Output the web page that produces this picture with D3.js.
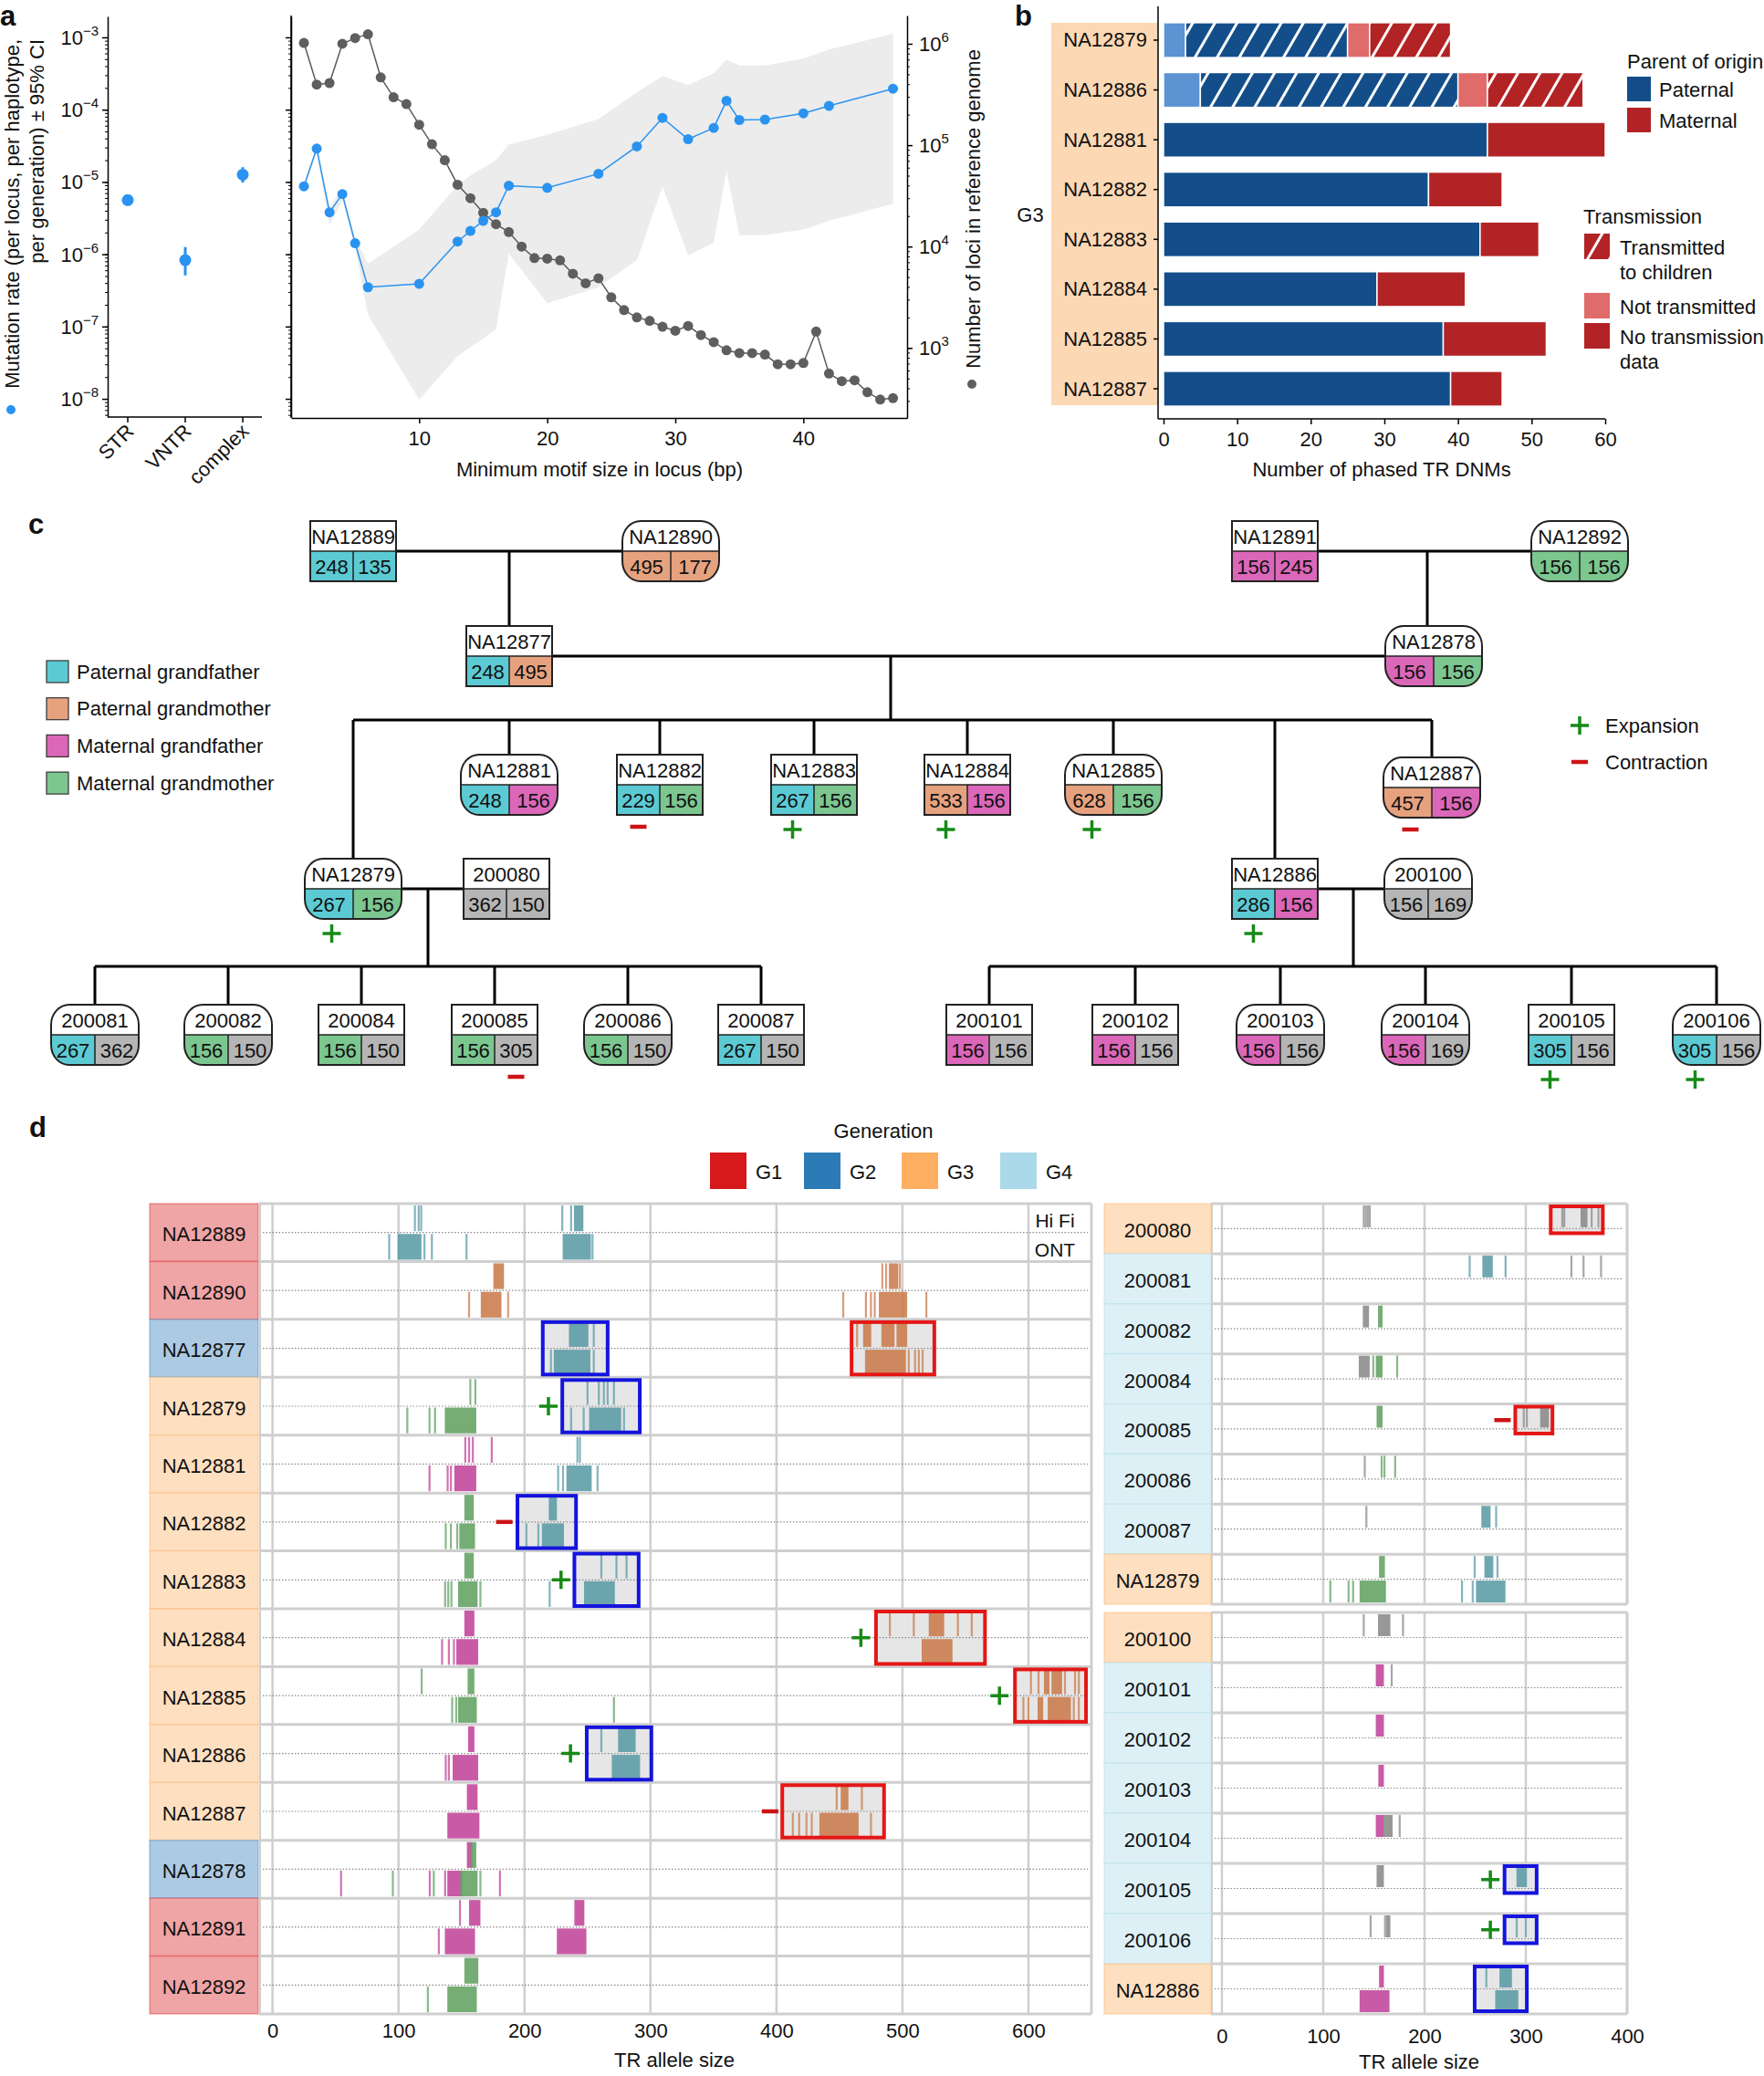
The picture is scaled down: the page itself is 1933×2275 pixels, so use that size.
<!DOCTYPE html>
<html>
<head>
<meta charset="utf-8">
<script src="https://cdn.jsdelivr.net/npm/d3@7"></script>
<style>
  body { margin: 0; background: #fff; }
  text { font-family: "Liberation Sans", Arial, Helvetica, sans-serif; fill: #111; }
</style>
</head>
<body>
<svg id="fig" width="1933" height="2275"></svg>
<script>
// ---------- panel a : mutation rate by TR class ----------
var rateCategories = ["STR", "VNTR", "complex"];
var rateValues = [5.6e-6, 8.3e-7, 1.26e-5];
var rateLow    = [5.3e-6, 5.1e-7, 9.8e-6];
var rateHigh   = [5.9e-6, 1.26e-6, 1.6e-5];

// ---------- panel a : by minimum motif size ----------
var motifSizes    = [1, 2, 3, 4, 5, 6, 10, 13, 14, 15, 16, 17, 20, 24, 27, 29, 31, 33, 34, 35, 37, 40, 42, 47];
var motifRate     = [8.7e-6, 2.9e-5, 3.8e-6, 6.8e-6, 1.42e-6, 3.5e-7, 3.9e-7, 1.5e-6, 2.1e-6, 2.9e-6, 3.8e-6, 8.9e-6,
                     8.3e-6, 1.3e-5, 3.1e-5, 7.7e-5, 3.9e-5, 5.6e-5, 1.33e-4, 7.2e-5, 7.3e-5, 8.9e-5, 1.13e-4, 1.95e-4];
var motifRateLow  = [7.9e-6, 2.6e-5, 2.5e-6, 5.5e-6, 1.23e-6, 1.45e-7, 9.8e-9, 3.9e-8, 5.2e-8, 6.8e-8, 9.1e-8, 1.02e-6,
                     2.1e-7, 3.5e-7, 8.3e-7, 8.7e-6, 9.6e-7, 1.44e-6, 1.43e-5, 1.83e-6, 1.83e-6, 2.2e-6, 2.9e-6, 5.0e-6];
var motifRateHigh = [9.6e-6, 3.3e-5, 4.5e-6, 8.2e-6, 1.66e-6, 7.4e-7, 2.2e-6, 9.1e-6, 1.23e-5, 1.58e-5, 2.0e-5, 3.3e-5,
                     4.5e-5, 7.4e-5, 1.74e-4, 2.9e-4, 2.2e-4, 3.2e-4, 4.9e-4, 4.1e-4, 4.1e-4, 5.1e-4, 6.8e-4, 1.12e-3];
var lociMotifSizes = [1, 2, 3, 4, 5, 6, 7, 8, 9, 10, 11, 12, 13, 14, 15, 16, 17, 18, 19, 20, 21, 22, 23, 24,
                      25, 26, 27, 28, 29, 30, 31, 32, 33, 34, 35, 36, 37, 38, 39, 40, 41, 42, 43, 44, 45, 46, 47];
var lociCounts = [1.02e6, 3.96e5, 4.1e5, 1.0e6, 1.14e6, 1.24e6, 4.66e5, 2.97e5, 2.54e5, 1.59e5, 1.02e5, 7.1e4,
                  4.07e4, 3.0e4, 2.15e4, 1.66e4, 1.39e4, 1.0e4, 7.7e3, 7.6e3, 7.3e3, 5.4e3, 4.34e3, 4.87e3,
                  3.16e3, 2.36e3, 2.0e3, 1.85e3, 1.62e3, 1.48e3, 1.65e3, 1.34e3, 1.14e3, 950, 890, 890,
                  860, 690, 690, 710, 1450, 560, 470, 480, 366, 310, 320];

// ---------- panel b : phased DNMs ----------
var g3Samples    = ["NA12879", "NA12886", "NA12881", "NA12882", "NA12883", "NA12884", "NA12885", "NA12887"];
var patNotTrans  = [3, 5, 0, 0, 0, 0, 0, 0];
var patTrans     = [22, 35, 0, 0, 0, 0, 0, 0];
var patNoData    = [0, 0, 44, 36, 43, 29, 38, 39];
var matNotTrans  = [3, 4, 0, 0, 0, 0, 0, 0];
var matTrans     = [11, 13, 0, 0, 0, 0, 0, 0];
var matNoData    = [0, 0, 16, 10, 8, 12, 14, 7];

// ---------- panel c : pedigree ----------
var pedPeople = [
  {id: "NA12889", sex: "M", a: 248, b: 135, ca: "pgf", cb: "pgf"},
  {id: "NA12890", sex: "F", a: 495, b: 177, ca: "pgm", cb: "pgm"},
  {id: "NA12891", sex: "M", a: 156, b: 245, ca: "mgf", cb: "mgf"},
  {id: "NA12892", sex: "F", a: 156, b: 156, ca: "mgm", cb: "mgm"},
  {id: "NA12877", sex: "M", a: 248, b: 495, ca: "pgf", cb: "pgm"},
  {id: "NA12878", sex: "F", a: 156, b: 156, ca: "mgf", cb: "mgm"},
  {id: "NA12881", sex: "F", a: 248, b: 156, ca: "pgf", cb: "mgf"},
  {id: "NA12882", sex: "M", a: 229, b: 156, ca: "pgf", cb: "mgm", mut: "-", cell: 0},
  {id: "NA12883", sex: "M", a: 267, b: 156, ca: "pgf", cb: "mgm", mut: "+", cell: 0},
  {id: "NA12884", sex: "M", a: 533, b: 156, ca: "pgm", cb: "mgf", mut: "+", cell: 0},
  {id: "NA12885", sex: "F", a: 628, b: 156, ca: "pgm", cb: "mgm", mut: "+", cell: 0},
  {id: "NA12887", sex: "F", a: 457, b: 156, ca: "pgm", cb: "mgf", mut: "-", cell: 0},
  {id: "NA12879", sex: "F", a: 267, b: 156, ca: "pgf", cb: "mgm", mut: "+", cell: 0},
  {id: "200080",  sex: "M", a: 362, b: 150, ca: "sp",  cb: "sp"},
  {id: "NA12886", sex: "M", a: 286, b: 156, ca: "pgf", cb: "mgf", mut: "+", cell: 0},
  {id: "200100",  sex: "F", a: 156, b: 169, ca: "sp",  cb: "sp"},
  {id: "200081",  sex: "F", a: 267, b: 362, ca: "pgf", cb: "sp"},
  {id: "200082",  sex: "F", a: 156, b: 150, ca: "mgm", cb: "sp"},
  {id: "200084",  sex: "M", a: 156, b: 150, ca: "mgm", cb: "sp"},
  {id: "200085",  sex: "M", a: 156, b: 305, ca: "mgm", cb: "sp", mut: "-", cell: 1},
  {id: "200086",  sex: "F", a: 156, b: 150, ca: "mgm", cb: "sp"},
  {id: "200087",  sex: "M", a: 267, b: 150, ca: "pgf", cb: "sp"},
  {id: "200101",  sex: "M", a: 156, b: 156, ca: "mgf", cb: "sp"},
  {id: "200102",  sex: "M", a: 156, b: 156, ca: "mgf", cb: "sp"},
  {id: "200103",  sex: "F", a: 156, b: 156, ca: "mgf", cb: "sp"},
  {id: "200104",  sex: "F", a: 156, b: 169, ca: "mgf", cb: "sp"},
  {id: "200105",  sex: "M", a: 305, b: 156, ca: "pgf", cb: "sp", mut: "+", cell: 0},
  {id: "200106",  sex: "F", a: 305, b: 156, ca: "pgf", cb: "sp", mut: "+", cell: 0}
];
var pedFamilies = [
  {p1: "NA12889", p2: "NA12890", kids: ["NA12877"]},
  {p1: "NA12891", p2: "NA12892", kids: ["NA12878"]},
  {p1: "NA12877", p2: "NA12878", kids: ["NA12879", "NA12881", "NA12882", "NA12883", "NA12884", "NA12885", "NA12886", "NA12887"]},
  {p1: "NA12879", p2: "200080", kids: ["200081", "200082", "200084", "200085", "200086", "200087"]},
  {p1: "NA12886", p2: "200100", kids: ["200101", "200102", "200103", "200104", "200105", "200106"]}
];
var originLabels = ["Paternal grandfather", "Paternal grandmother", "Maternal grandfather", "Maternal grandmother"];
var originKeys = ["pgf", "pgm", "mgf", "mgm"];

// ---------- panel d : read-level allele sizes ----------
var leftRows = ["NA12889", "NA12890", "NA12877", "NA12879", "NA12881", "NA12882", "NA12883",
                "NA12884", "NA12885", "NA12886", "NA12887", "NA12878", "NA12891", "NA12892"];
var leftGen  = ["G1", "G1", "G2", "G3", "G3", "G3", "G3", "G3", "G3", "G3", "G3", "G2", "G1", "G1"];
var rightRowsA = ["200080", "200081", "200082", "200084", "200085", "200086", "200087", "NA12879"];
var rightGenA  = ["G3", "G4", "G4", "G4", "G4", "G4", "G4", "G3"];
var rightRowsB = ["200100", "200101", "200102", "200103", "200104", "200105", "200106", "NA12886"];
var rightGenB  = ["G3", "G4", "G4", "G4", "G4", "G4", "G4", "G3"];
var generations = ["G1", "G2", "G3", "G4"];

// reads: s = sample, p = H (HiFi) / O (ONT), c = origin, v = sizes ([lo, hi] = dense block)
var leftReads = [
  {s: "NA12889", p: "H", c: "pgf", v: [113, 116, 118, 230, 237, [240, 246]]},
  {s: "NA12889", p: "O", c: "pgf", v: [92.6, [100, 117.5], 120.6, 126.5, 154, [231, 252], 254]},
  {s: "NA12890", p: "H", c: "pgm", v: [[176, 183], 484, 487, [490, 496], 498]},
  {s: "NA12890", p: "O", c: "pgm", v: [156, [166, 181], 187, 453, 471, 475, 478, [482, 503], 519]},
  {s: "NA12877", p: "H", c: "pgf", v: [[236, 250], 255]},
  {s: "NA12877", p: "H", c: "pgm", v: [464, [469.5, 474.5], [484, 493], [496, 503]]},
  {s: "NA12877", p: "O", c: "pgf", v: [221, [224, 251.6], 255]},
  {s: "NA12877", p: "O", c: "pgm", v: [[471, 502], 505, 510, 513, 516]},
  {s: "NA12879", p: "H", c: "mgm", v: [157, 161]},
  {s: "NA12879", p: "O", c: "mgm", v: [107, 124.6, 129, [137.5, 161]]},
  {s: "NA12879", p: "H", c: "pgf", v: [250, 259, 263, 266, 271]},
  {s: "NA12879", p: "O", c: "pgf", v: [237, 247, [252, 276], 279]},
  {s: "NA12881", p: "H", c: "mgf", v: [153, 156, 159, 174]},
  {s: "NA12881", p: "H", c: "pgf", v: [242, 244]},
  {s: "NA12881", p: "O", c: "mgf", v: [124.6, 139, 141.6, [145, 161]]},
  {s: "NA12881", p: "O", c: "pgf", v: [226.7, 230.6, [234, 252.6], 258]},
  {s: "NA12882", p: "H", c: "mgm", v: [[153, 159]]},
  {s: "NA12882", p: "O", c: "mgm", v: [137.5, 141.6, 146.6, [149, 160]]},
  {s: "NA12882", p: "H", c: "pgf", v: [[220, 225]]},
  {s: "NA12882", p: "O", c: "pgf", v: [201.5, 211, [214.5, 230.6]]},
  {s: "NA12883", p: "H", c: "mgm", v: [[153, 159]]},
  {s: "NA12883", p: "O", c: "mgm", v: [137, 139.5, 142, [148, 162], 165]},
  {s: "NA12883", p: "H", c: "pgf", v: [261, 273, 281]},
  {s: "NA12883", p: "O", c: "pgf", v: [220, [248, 271]]},
  {s: "NA12884", p: "H", c: "mgf", v: [[153, 159.5]]},
  {s: "NA12884", p: "O", c: "mgf", v: [134.6, 140, 144, [146.6, 162.5]]},
  {s: "NA12884", p: "H", c: "pgm", v: [490, 509, [521.6, 532.4], 544, 555]},
  {s: "NA12884", p: "O", c: "pgm", v: [[516, 539]]},
  {s: "NA12885", p: "H", c: "mgm", v: [118.4, [155.6, 159.5]]},
  {s: "NA12885", p: "O", c: "mgm", v: [142.6, 145.8, [148, 161.4], 271]},
  {s: "NA12885", p: "H", c: "pgm", v: [602, 608, [613, 616], [619, 626], 629, 637, 640]},
  {s: "NA12885", p: "O", c: "pgm", v: [596, 600, [608, 611], [616, 633], 636, 640]},
  {s: "NA12886", p: "H", c: "mgf", v: [[156, 159.5]]},
  {s: "NA12886", p: "O", c: "mgf", v: [137.5, 140, [143.7, 162.5]]},
  {s: "NA12886", p: "H", c: "pgf", v: [261, [275, 287.5]]},
  {s: "NA12886", p: "O", c: "pgf", v: [[270, 291]]},
  {s: "NA12887", p: "H", c: "mgf", v: [[155, 162]]},
  {s: "NA12887", p: "O", c: "mgf", v: [[139.5, 163.5]]},
  {s: "NA12887", p: "H", c: "pgm", v: [447.8, [451.7, 456.4], 467.8]},
  {s: "NA12887", p: "O", c: "pgm", v: [413, 418, 423.8, 428, [434.8, 464.5], 475]},
  {s: "NA12878", p: "H", c: "mgf", v: [[155, 158]]},
  {s: "NA12878", p: "H", c: "mgm", v: [[158, 161]]},
  {s: "NA12878", p: "O", c: "mgf", v: [54.4, 124.8, 137, [139.5, 149.8], 180.5]},
  {s: "NA12878", p: "O", c: "mgm", v: [95.5, 128, [149.8, 162], 165]},
  {s: "NA12891", p: "H", c: "mgf", v: [148.8, [156.7, 164.3], [240.3, 246.8]]},
  {s: "NA12891", p: "O", c: "mgf", v: [132, [137.5, 160], [226.4, 248.4]]},
  {s: "NA12892", p: "H", c: "mgm", v: [[153, 162.6]]},
  {s: "NA12892", p: "O", c: "mgm", v: [123.3, [139.5, 161.4]]}
];
var rightReads = [
  {s: "200080", p: "H", c: "sp", v: [140, 142, 144, 146, 336, 338, [355, 360], 365, 371.7]},
  {s: "200081", p: "H", c: "pgf", v: [244.6, [258, 266.5], 280]},
  {s: "200081", p: "H", c: "sp", v: [345, 357, 374.3]},
  {s: "200082", p: "H", c: "sp", v: [[140, 144.3]]},
  {s: "200082", p: "H", c: "mgm", v: [[155, 157.7]]},
  {s: "200084", p: "H", c: "sp", v: [[136, 145]]},
  {s: "200084", p: "H", c: "mgm", v: [149.4, [152.8, 157.7], 173]},
  {s: "200085", p: "H", c: "mgm", v: [[153.6, 157.7]]},
  {s: "200085", p: "H", c: "sp", v: [298, 301, [315, 322]]},
  {s: "200086", p: "H", c: "sp", v: [141]},
  {s: "200086", p: "H", c: "mgm", v: [157.7, 160.5, 171]},
  {s: "200087", p: "H", c: "sp", v: [142.6]},
  {s: "200087", p: "H", c: "pgf", v: [[257, 264.3], 270.7]},
  {s: "NA12879", p: "H", c: "mgm", v: [[156, 160]]},
  {s: "NA12879", p: "H", c: "pgf", v: [249.5, [260, 267], 272]},
  {s: "NA12879", p: "O", c: "mgm", v: [107, 125, 129.5, [136.8, 161]]},
  {s: "NA12879", p: "O", c: "pgf", v: [237, 247.6, [251.7, 279]]},
  {s: "200100", p: "H", c: "sp", v: [140, [155, 165.4], 178.8]},
  {s: "200101", p: "H", c: "mgf", v: [[152.8, 159]]},
  {s: "200101", p: "H", c: "sp", v: [167.6]},
  {s: "200102", p: "H", c: "mgf", v: [[152.8, 159]]},
  {s: "200103", p: "H", c: "mgf", v: [[155.3, 159]]},
  {s: "200104", p: "H", c: "mgf", v: [[152.8, 159]]},
  {s: "200104", p: "H", c: "sp", v: [[160.4, 167.6], 175.5]},
  {s: "200105", p: "H", c: "sp", v: [[153.6, 159]]},
  {s: "200105", p: "H", c: "pgf", v: [[291.7, 300.2]]},
  {s: "200106", p: "H", c: "sp", v: [146.8, 161, [163, 165.4]]},
  {s: "200106", p: "H", c: "pgf", v: [291, 300]},
  {s: "NA12886", p: "H", c: "mgf", v: [[156, 159]]},
  {s: "NA12886", p: "H", c: "pgf", v: [261, [274.9, 285.4], 300]},
  {s: "NA12886", p: "O", c: "mgf", v: [[136.8, 164.5]]},
  {s: "NA12886", p: "O", c: "pgf", v: [[270.7, 291.7]]}
];
// de novo allele boxes: k = blue (paternal line) / red (maternal line)
var leftBoxes = [
  {s: "NA12877", lo: 214.5, hi: 266, k: "blue"},
  {s: "NA12877", lo: 459.6, hi: 525.3, k: "red"},
  {s: "NA12879", lo: 230, hi: 291.5, k: "blue", mut: "+", at: 219},
  {s: "NA12882", lo: 194.4, hi: 240.9, k: "blue", mut: "-", at: 184},
  {s: "NA12883", lo: 239.6, hi: 290.6, k: "blue", mut: "+", at: 229},
  {s: "NA12884", lo: 479, hi: 565.5, k: "red", mut: "+", at: 467},
  {s: "NA12885", lo: 589.3, hi: 645.7, k: "red", mut: "+", at: 577},
  {s: "NA12886", lo: 249.4, hi: 300.7, k: "blue", mut: "+", at: 236.5},
  {s: "NA12887", lo: 404.6, hi: 485.4, k: "red", mut: "-", at: 395}
];
var rightBoxes = [
  {s: "200080", lo: 324.6, hi: 376, k: "red", half: true},
  {s: "200085", lo: 289.6, hi: 326.3, k: "red", half: true, mut: "-", at: 277},
  {s: "200105", lo: 279, hi: 310.7, k: "blue", half: true, mut: "+", at: 265},
  {s: "200106", lo: 279, hi: 310.7, k: "blue", half: true, mut: "+", at: 265},
  {s: "NA12886", lo: 249.5, hi: 301, k: "blue"}
];

// ---------- colours ----------
var readColor = {pgf: "#5b9ba6", pgm: "#c97b4c", mgf: "#c2449a", mgm: "#62a262", sp: "#8a8a8a"};
var cellColor = {pgf: "#5ccad3", pgm: "#e6a27f", mgf: "#db67b8", mgm: "#7cc68f", sp: "#b5b5b5"};
var genColor  = {G1: "#d7191c", G2: "#2c7bb6", G3: "#fdae61", G4: "#abd9e9"};
var genLight  = {G1: "#efa4a5", G2: "#accae2", G3: "#fedfc0", G4: "#ddf0f6"};
var boxColor  = {blue: "#1414dc", red: "#e51616"};
var plusColor = "#178a17", minusColor = "#cc1414";

var svg = d3.select("#fig");
var defs = svg.append("defs");

function panelLabel(txt, x, y) {
  svg.append("text").attr("x", x).attr("y", y).attr("font-size", 31)
    .attr("font-weight", "bold").text(txt);
}
function supText(g, x, y, exp, anchor) {
  var t = g.append("text").attr("x", x).attr("y", y + 8).attr("text-anchor", anchor)
    .attr("font-size", 22);
  t.append("tspan").text("10");
  t.append("tspan").attr("dy", -10).attr("font-size", 15).text(exp);
  return t;
}
function plusMark(g, x, y, s) {
  g.append("path").attr("d", `M${x - s / 2},${y}H${x + s / 2}M${x},${y - s / 2}V${y + s / 2}`)
    .attr("stroke", plusColor).attr("stroke-width", 3.5);
}
function minusMark(g, x, y, s) {
  g.append("path").attr("d", `M${x - s / 2},${y}H${x + s / 2}`)
    .attr("stroke", minusColor).attr("stroke-width", 4.5);
}

// =================================
// Panel a (left): rate by class
// =================================
panelLabel("a", 0, 28);
var yRate = d3.scaleLog().domain([5.6e-9, 1.95e-3]).range([457, 18]);
var xCat = d3.scalePoint().domain(rateCategories).range([140, 266]);
var majorRate = [1e-8, 1e-7, 1e-6, 1e-5, 1e-4, 1e-3];
var expRate = ["\u22128", "\u22127", "\u22126", "\u22125", "\u22124", "\u22123"];

var gA = svg.append("g");
function rateAxis(g, x, labels) {
  var minor = g.append("g").attr("transform", `translate(${x},0)`)
    .call(d3.axisLeft(yRate).tickValues(yRate.ticks()).tickSize(3).tickSizeOuter(0).tickFormat(""));
  minor.select(".domain").remove();
  g.append("g").attr("transform", `translate(${x},0)`)
    .call(d3.axisLeft(yRate).tickValues(majorRate).tickSize(6).tickSizeOuter(0).tickFormat(""))
    .selectAll("path,line").attr("stroke-width", 1.5);
  if (labels) {
    majorRate.forEach(function(v, i) { supText(g, x - 10, yRate(v), expRate[i], "end"); });
  }
}
rateAxis(gA, 118, true);
gA.append("line").attr("x1", 118).attr("x2", 287).attr("y1", 457).attr("y2", 457)
  .attr("stroke", "#000").attr("stroke-width", 1.5);
rateCategories.forEach(function(c, i) {
  var x = xCat(c);
  gA.append("line").attr("x1", x).attr("x2", x).attr("y1", 457).attr("y2", 463).attr("stroke", "#000").attr("stroke-width", 1.5);
  gA.append("text").attr("text-anchor", "end").attr("font-size", 22)
    .attr("transform", `translate(${x + 8},${474}) rotate(-45)`).text(c);
  gA.append("line").attr("x1", x).attr("x2", x).attr("y1", yRate(rateLow[i])).attr("y2", yRate(rateHigh[i]))
    .attr("stroke", "#2a93f0").attr("stroke-width", 3);
  gA.append("circle").attr("cx", x).attr("cy", yRate(rateValues[i])).attr("r", 6.5).attr("fill", "#2a93f0");
});
gA.append("text").attr("transform", "translate(13,43) rotate(-90)").attr("text-anchor", "end")
  .attr("dominant-baseline", "central").attr("font-size", 22).text("Mutation rate (per locus, per haplotype,");
gA.append("text").attr("transform", "translate(40,43) rotate(-90)").attr("text-anchor", "end")
  .attr("dominant-baseline", "central").attr("font-size", 22).text("per generation) \u00b1 95% CI");
gA.append("circle").attr("cx", 12).attr("cy", 449).attr("r", 5).attr("fill", "#2a93f0");

// =================================
// Panel a (right): rate and loci by motif size
// =================================
var xMotif = d3.scaleLinear().domain([0, 48.1]).range([319, 994]);
var yLoci = d3.scaleLog().domain([204, 1.9e6]).range([458, 17]);
var gA2 = svg.append("g");
var bandData = motifSizes.map((m, i) => ({x: m, lo: motifRateLow[i], hi: motifRateHigh[i]}));
gA2.append("path").datum(bandData).attr("fill", "#ececec")
  .attr("d", d3.area().x(d => xMotif(d.x)).y0(d => yRate(d.lo)).y1(d => yRate(d.hi)));

var lociData = lociMotifSizes.map((m, i) => ({x: m, y: lociCounts[i]}));
gA2.append("path").datum(lociData).attr("fill", "none").attr("stroke", "#5a5a5a").attr("stroke-width", 1.5)
  .attr("d", d3.line().x(d => xMotif(d.x)).y(d => yLoci(d.y)));
gA2.selectAll("circle.loci").data(lociData).enter().append("circle").attr("class", "loci")
  .attr("cx", d => xMotif(d.x)).attr("cy", d => yLoci(d.y)).attr("r", 5.5).attr("fill", "#5e5e5e");

var rateData = motifSizes.map((m, i) => ({x: m, y: motifRate[i]}));
gA2.append("path").datum(rateData).attr("fill", "none").attr("stroke", "#2a93f0").attr("stroke-width", 1.5)
  .attr("d", d3.line().x(d => xMotif(d.x)).y(d => yRate(d.y)));
gA2.selectAll("circle.rate").data(rateData).enter().append("circle").attr("class", "rate")
  .attr("cx", d => xMotif(d.x)).attr("cy", d => yRate(d.y)).attr("r", 5.5).attr("fill", "#2a93f0");

rateAxis(gA2, 319, false);
gA2.append("line").attr("x1", 319).attr("x2", 319).attr("y1", 17).attr("y2", 458).attr("stroke", "#000").attr("stroke-width", 1.5);
var xAx = gA2.append("g").attr("transform", "translate(0,458)")
  .call(d3.axisBottom(xMotif).tickValues([10, 20, 30, 40]).tickSize(6).tickSizeOuter(0).tickPadding(8));
xAx.selectAll("text").attr("font-size", 22).style("font-family", "inherit");
xAx.selectAll("path,line").attr("stroke-width", 1.5);
var lociMinor = gA2.append("g").attr("transform", "translate(994,0)")
  .call(d3.axisRight(yLoci).tickValues(yLoci.ticks()).tickSize(3).tickFormat(""));
lociMinor.select(".domain").remove();
gA2.append("g").attr("transform", "translate(994,0)")
  .call(d3.axisRight(yLoci).tickValues([1e3, 1e4, 1e5, 1e6]).tickSize(6).tickSizeOuter(0).tickFormat(""))
  .selectAll("path,line").attr("stroke-width", 1.5);
[1e3, 1e4, 1e5, 1e6].forEach(function(v, i) { supText(gA2, 1007, yLoci(v), String(i + 3), "start"); });
gA2.append("text").attr("x", 657).attr("y", 522).attr("text-anchor", "middle").attr("font-size", 22)
  .text("Minimum motif size in locus (bp)");
gA2.append("text").attr("transform", "translate(1066,229) rotate(-90)").attr("text-anchor", "middle")
  .attr("dominant-baseline", "central").attr("font-size", 22).text("Number of loci in reference genome");
gA2.append("circle").attr("cx", 1065).attr("cy", 421).attr("r", 5).attr("fill", "#5e5e5e");

// =================================
// Panel b: phased TR DNMs
// =================================
panelLabel("b", 1112, 28);
function hatch(id, col) {
  var p = defs.append("pattern").attr("id", id).attr("patternUnits", "userSpaceOnUse")
    .attr("width", 21).attr("height", 21).attr("patternTransform", "rotate(30)");
  p.append("rect").attr("width", 21).attr("height", 21).attr("fill", col);
  p.append("line").attr("x1", 10.5).attr("x2", 10.5).attr("y1", 0).attr("y2", 21)
    .attr("stroke", "#fff").attr("stroke-width", 3);
}
hatch("hatchBlue", "#144e8a");
hatch("hatchRed", "#b22325");
var dnmKeys = ["patNot", "patTrans", "patNo", "matNot", "matTrans", "matNo"];
var dnmFill = {patNot: "#5b93d3", patTrans: "url(#hatchBlue)", patNo: "#144e8a",
               matNot: "#e06b6b", matTrans: "url(#hatchRed)", matNo: "#b22325"};
var dnmRows = g3Samples.map((s, i) => ({sample: s, patNot: patNotTrans[i], patTrans: patTrans[i], patNo: patNoData[i],
                                        matNot: matNotTrans[i], matTrans: matTrans[i], matNo: matNoData[i]}));
var dnmStack = d3.stack().keys(dnmKeys)(dnmRows);
var xDnm = d3.scaleLinear().domain([0, 60]).range([1275, 1759]);
var yDnm = d3.scaleBand().domain(g3Samples).range([16.7, 453.3]).paddingInner(0.3).paddingOuter(0.15);
var gB = svg.append("g");
gB.append("rect").attr("x", 1152).attr("y", 25).attr("width", 117).attr("height", 419).attr("fill", "#fdd8b4");
gB.append("text").attr("x", 1129).attr("y", 235).attr("text-anchor", "middle").attr("dominant-baseline", "central")
  .attr("font-size", 22).text("G3");
dnmStack.forEach(function(layer) {
  gB.selectAll(null).data(layer.filter(d => d[1] > d[0])).enter().append("rect")
    .attr("x", d => xDnm(d[0])).attr("width", d => xDnm(d[1]) - xDnm(d[0]))
    .attr("y", d => yDnm(d.data.sample)).attr("height", yDnm.bandwidth())
    .attr("fill", dnmFill[layer.key]).attr("stroke", "#fff").attr("stroke-width", 1.5);
});
gB.append("line").attr("x1", 1269).attr("x2", 1269).attr("y1", 7).attr("y2", 459).attr("stroke", "#000").attr("stroke-width", 1.5);
gB.append("line").attr("x1", 1269).attr("x2", 1759).attr("y1", 459).attr("y2", 459).attr("stroke", "#000").attr("stroke-width", 1.5);
g3Samples.forEach(function(s) {
  var y = yDnm(s) + yDnm.bandwidth() / 2;
  gB.append("line").attr("x1", 1264).attr("x2", 1269).attr("y1", y).attr("y2", y).attr("stroke", "#000").attr("stroke-width", 1.5);
  gB.append("text").attr("x", 1257).attr("y", y).attr("text-anchor", "end").attr("dominant-baseline", "central")
    .attr("font-size", 22).text(s);
});
var bAx = gB.append("g").attr("transform", "translate(0,459)")
  .call(d3.axisBottom(xDnm).tickValues([0, 10, 20, 30, 40, 50, 60]).tickSize(6).tickSizeOuter(0).tickPadding(8));
bAx.select(".domain").remove();
bAx.selectAll("text").attr("font-size", 22).style("font-family", "inherit");
bAx.selectAll("line").attr("stroke-width", 1.5);
gB.append("text").attr("x", 1514).attr("y", 522).attr("text-anchor", "middle").attr("font-size", 22)
  .text("Number of phased TR DNMs");
// legend
gB.append("text").attr("x", 1783).attr("y", 67).attr("dominant-baseline", "central").attr("font-size", 22).text("Parent of origin");
[["Paternal", "#144e8a", 84], ["Maternal", "#b22325", 118]].forEach(function(d) {
  gB.append("rect").attr("x", 1783).attr("y", d[2]).attr("width", 26).attr("height", 27).attr("fill", d[1]);
  gB.append("text").attr("x", 1818).attr("y", d[2] + 14).attr("dominant-baseline", "central").attr("font-size", 22).text(d[0]);
});
gB.append("text").attr("x", 1735).attr("y", 237).attr("dominant-baseline", "central").attr("font-size", 22).text("Transmission");
[["url(#hatchRed)", 256, ["Transmitted", "to children"]], ["#e06b6b", 321, ["Not transmitted"]],
 ["#b22325", 354, ["No transmission", "data"]]].forEach(function(d) {
  gB.append("rect").attr("x", 1736).attr("y", d[1]).attr("width", 28).attr("height", 28).attr("fill", d[0]);
  d[2].forEach(function(t, j) {
    gB.append("text").attr("x", 1775).attr("y", d[1] + 15 + j * 27).attr("dominant-baseline", "central")
      .attr("font-size", 22).text(t);
  });
});

// =================================
// Panel c: pedigree
// =================================
panelLabel("c", 31, 585);
var pedLayout = {
  NA12889: [387, 571], NA12890: [735, 571], NA12891: [1397, 571], NA12892: [1731, 571],
  NA12877: [558, 686], NA12878: [1571, 686],
  NA12881: [558, 827], NA12882: [723, 827], NA12883: [892, 827], NA12884: [1060, 827],
  NA12885: [1220, 827], NA12887: [1569, 830],
  NA12879: [387, 941], "200080": [555, 941], NA12886: [1397, 941], "200100": [1565, 941],
  "200081": [104, 1101], "200082": [250, 1101], "200084": [396, 1101], "200085": [542, 1101],
  "200086": [688, 1101], "200087": [834, 1101],
  "200101": [1084, 1101], "200102": [1244, 1101], "200103": [1403, 1101], "200104": [1562, 1101],
  "200105": [1722, 1101], "200106": [1881, 1101]
};
var pedDrop = {NA12889: 558, NA12891: 1564, NA12877: 976, NA12879: 469, NA12886: 1483};
var pedSib = {NA12877: 789, NA12879: 1059, NA12886: 1059};
var BOXH = 66;
var pedById = {};
pedPeople.forEach(p => { pedById[p.id] = p; });
function boxW(p) { return p.sex === "M" ? 94 : (p.id.indexOf("NA") === 0 ? 106 : 96); }

var gC = svg.append("g");
var gLines = gC.append("g").attr("stroke", "#000").attr("stroke-width", 3).attr("fill", "none");
pedFamilies.forEach(function(f) {
  var a = pedById[f.p1], b = pedById[f.p2];
  var la = pedLayout[f.p1], lb = pedLayout[f.p2];
  var cy = la[1] + BOXH / 2;
  gLines.append("line").attr("x1", la[0] + boxW(a) / 2).attr("x2", lb[0] - boxW(b) / 2).attr("y1", cy).attr("y2", cy);
  var dx = pedDrop[f.p1];
  if (f.kids.length === 1) {
    gLines.append("line").attr("x1", dx).attr("x2", dx).attr("y1", cy).attr("y2", pedLayout[f.kids[0]][1]);
    return;
  }
  var sy = pedSib[f.p1];
  gLines.append("line").attr("x1", dx).attr("x2", dx).attr("y1", cy).attr("y2", sy);
  var xs = f.kids.map(k => pedLayout[k][0]);
  gLines.append("line").attr("x1", d3.min(xs)).attr("x2", d3.max(xs)).attr("y1", sy).attr("y2", sy);
  f.kids.forEach(function(k) {
    var l = pedLayout[k];
    gLines.append("line").attr("x1", l[0]).attr("x2", l[0]).attr("y1", sy).attr("y2", l[1]);
  });
});
pedPeople.forEach(function(p, i) {
  var l = pedLayout[p.id], w = boxW(p), x0 = l[0] - w / 2, y0 = l[1];
  var rx = p.sex === "F" ? 20 : 0;
  var cid = "clipPed" + i;
  defs.append("clipPath").attr("id", cid).append("rect").attr("x", x0).attr("y", y0)
    .attr("width", w).attr("height", BOXH).attr("rx", rx).attr("ry", rx ? 22 : 0);
  var g = gC.append("g");
  var inner = g.append("g").attr("clip-path", `url(#${cid})`);
  inner.append("rect").attr("x", x0).attr("y", y0).attr("width", w).attr("height", BOXH / 2).attr("fill", "#fff");
  inner.append("rect").attr("x", x0).attr("y", y0 + BOXH / 2).attr("width", w / 2).attr("height", BOXH / 2).attr("fill", cellColor[p.ca]);
  inner.append("rect").attr("x", x0 + w / 2).attr("y", y0 + BOXH / 2).attr("width", w / 2).attr("height", BOXH / 2).attr("fill", cellColor[p.cb]);
  inner.append("line").attr("x1", x0).attr("x2", x0 + w).attr("y1", y0 + BOXH / 2).attr("y2", y0 + BOXH / 2).attr("stroke", "#222").attr("stroke-width", 1.5);
  inner.append("line").attr("x1", l[0]).attr("x2", l[0]).attr("y1", y0 + BOXH / 2).attr("y2", y0 + BOXH).attr("stroke", "#222").attr("stroke-width", 1.5);
  g.append("rect").attr("x", x0).attr("y", y0).attr("width", w).attr("height", BOXH).attr("rx", rx).attr("ry", rx ? 22 : 0)
    .attr("fill", "none").attr("stroke", "#222").attr("stroke-width", 2);
  g.append("text").attr("x", l[0]).attr("y", y0 + 17).attr("text-anchor", "middle").attr("dominant-baseline", "central")
    .attr("font-size", 22).text(p.id);
  g.append("text").attr("x", l[0] - w / 4).attr("y", y0 + 50).attr("text-anchor", "middle").attr("dominant-baseline", "central")
    .attr("font-size", 22).text(p.a);
  g.append("text").attr("x", l[0] + w / 4).attr("y", y0 + 50).attr("text-anchor", "middle").attr("dominant-baseline", "central")
    .attr("font-size", 22).text(p.b);
  if (p.mut) {
    var mx = l[0] + (p.cell === 0 ? -23.5 : 23.5), my = y0 + BOXH + 16;
    if (p.mut === "+") plusMark(g, mx, my, 20); else minusMark(g, mx, my - 3, 18);
  }
});
originLabels.forEach(function(t, i) {
  var y = 736 + i * 40.7;
  gC.append("rect").attr("x", 51).attr("y", y - 12).attr("width", 24).attr("height", 24)
    .attr("fill", cellColor[originKeys[i]]).attr("stroke", "#333").attr("stroke-width", 1.2);
  gC.append("text").attr("x", 84).attr("y", y).attr("dominant-baseline", "central").attr("font-size", 22).text(t);
});
plusMark(gC, 1731, 795, 20);
gC.append("text").attr("x", 1759).attr("y", 795).attr("dominant-baseline", "central").attr("font-size", 22).text("Expansion");
minusMark(gC, 1731, 835, 18);
gC.append("text").attr("x", 1759).attr("y", 835).attr("dominant-baseline", "central").attr("font-size", 22).text("Contraction");

// =================================
// Panel d: read-level allele sizes
// =================================
panelLabel("d", 32, 1246);
var gD = svg.append("g");
gD.append("text").attr("x", 968).attr("y", 1239).attr("text-anchor", "middle").attr("dominant-baseline", "central")
  .attr("font-size", 22).text("Generation");
var legX = [778, 881, 988, 1096];
generations.forEach(function(gname, i) {
  gD.append("rect").attr("x", legX[i]).attr("y", 1263).attr("width", 40).attr("height", 40).attr("fill", genColor[gname]);
  gD.append("text").attr("x", legX[i] + 50).attr("y", 1284).attr("dominant-baseline", "central").attr("font-size", 22).text(gname);
});

function readPanel(rows, gens, reads, boxes, x, y0, y1, labX, labW, gridVals, hifiLabel) {
  var yB = d3.scaleBand().domain(rows).range([y0, y1]);
  var bw = yB.bandwidth();
  var xr = x.range();
  var g = gD.append("g");
  // label column
  rows.forEach(function(r, i) {
    g.append("rect").attr("x", labX).attr("y", yB(r)).attr("width", labW).attr("height", bw)
      .attr("fill", genLight[gens[i]]).attr("stroke", genColor[gens[i]]).attr("stroke-opacity", 0.35).attr("stroke-width", 1.5);
    g.append("text").attr("x", labX + labW / 2).attr("y", yB(r) + bw / 2 + 2).attr("text-anchor", "middle")
      .attr("dominant-baseline", "central").attr("font-size", 22).text(r);
  });
  // grid
  gridVals.forEach(function(v) {
    g.append("line").attr("x1", x(v)).attr("x2", x(v)).attr("y1", y0).attr("y2", y1).attr("stroke", "#cfcfcf").attr("stroke-width", 2.5);
  });
  g.append("line").attr("x1", xr[0] + 1).attr("x2", xr[0] + 1).attr("y1", y0).attr("y2", y1).attr("stroke", "#cfcfcf").attr("stroke-width", 2);
  g.append("line").attr("x1", xr[1]).attr("x2", xr[1]).attr("y1", y0).attr("y2", y1).attr("stroke", "#cfcfcf").attr("stroke-width", 3);
  rows.concat([null]).forEach(function(r, i) {
    var yy = y0 + i * bw;
    g.append("line").attr("x1", xr[0]).attr("x2", xr[1]).attr("y1", yy).attr("y2", yy).attr("stroke", "#cfcfcf").attr("stroke-width", 3);
  });
  // box fills
  boxes.forEach(function(b) {
    var top = yB(b.s) + 3, h = b.half ? bw / 2 + 2 : bw - 6;
    g.append("rect").attr("x", x(b.lo)).attr("y", top).attr("width", x(b.hi) - x(b.lo)).attr("height", h).attr("fill", "#e6e6e6");
  });
  // dotted mid lines
  rows.forEach(function(r) {
    var my = yB(r) + bw / 2;
    g.append("line").attr("x1", xr[0] + 4).attr("x2", xr[1] - 4).attr("y1", my).attr("y2", my)
      .attr("stroke", "#8a8a8a").attr("stroke-width", 1.2).attr("stroke-dasharray", "1.5,2");
  });
  // reads
  reads.forEach(function(rd) {
    var top = yB(rd.s), mid = top + bw / 2;
    var ya = rd.p === "H" ? top + 2 : mid + 1.5;
    var yb = rd.p === "H" ? mid - 1.5 : top + bw - 2;
    rd.v.forEach(function(v) {
      var span = Array.isArray(v);
      var xa = span ? x(v[0]) - 1 : x(v) - 1.1;
      var xb = span ? x(v[1]) + 1 : x(v) + 1.1;
      g.append("rect").attr("x", xa).attr("y", ya).attr("width", xb - xa).attr("height", yb - ya)
        .attr("fill", readColor[rd.c]).attr("opacity", span ? 0.88 : 0.75);
    });
  });
  // box outlines and markers
  boxes.forEach(function(b) {
    var top = yB(b.s) + 3, h = b.half ? bw / 2 + 2 : bw - 6;
    g.append("rect").attr("x", x(b.lo)).attr("y", top).attr("width", x(b.hi) - x(b.lo)).attr("height", h)
      .attr("fill", "none").attr("stroke", boxColor[b.k]).attr("stroke-width", 4);
    if (b.mut) {
      var my = top + h / 2;
      if (b.mut === "+") plusMark(g, x(b.at), my, 20); else minusMark(g, x(b.at), my, 18);
    }
  });
  if (hifiLabel) {
    var r0 = yB(rows[0]);
    g.append("text").attr("x", 1156).attr("y", r0 + 18).attr("text-anchor", "middle").attr("dominant-baseline", "central")
      .attr("font-size", 21).attr("fill", "#222").text("Hi Fi");
    g.append("text").attr("x", 1156).attr("y", r0 + 50).attr("text-anchor", "middle").attr("dominant-baseline", "central")
      .attr("font-size", 21).attr("fill", "#222").text("ONT");
  }
  return g;
}

var xL = d3.scaleLinear().domain([-10.6, 650]).range([284, 1196]);
readPanel(leftRows, leftGen, leftReads, leftBoxes, xL, 1319, 2207, 164, 119, [0, 100, 200, 300, 400, 500, 600], true);
var xR = d3.scaleLinear().domain([-10.8, 400]).range([1327, 1783]);
readPanel(rightRowsA, rightGenA, rightReads.filter(r => rightRowsA.indexOf(r.s) >= 0),
          rightBoxes.filter(b => rightRowsA.indexOf(b.s) >= 0), xR, 1319, 1758, 1210, 117, [0, 100, 200, 300, 400], false);
readPanel(rightRowsB, rightGenB, rightReads.filter(r => rightRowsB.indexOf(r.s) >= 0),
          rightBoxes.filter(b => rightRowsB.indexOf(b.s) >= 0), xR, 1767, 2207, 1210, 117, [0, 100, 200, 300, 400], false);

var dAxL = gD.append("g").attr("transform", "translate(0,2207)")
  .call(d3.axisBottom(xL).tickValues([0, 100, 200, 300, 400, 500, 600]).tickSize(0).tickPadding(10));
var dAxR = gD.append("g").attr("transform", "translate(0,2207)")
  .call(d3.axisBottom(xR).tickValues([0, 100, 200, 300, 400]).tickSize(0).tickPadding(16));
[dAxL, dAxR].forEach(function(a) {
  a.select(".domain").remove();
  a.selectAll("text").attr("font-size", 22).attr("fill", "#222").style("font-family", "inherit");
});
gD.append("text").attr("x", 739).attr("y", 2257).attr("text-anchor", "middle").attr("dominant-baseline", "central")
  .attr("font-size", 22).attr("fill", "#222").text("TR allele size");
gD.append("text").attr("x", 1555).attr("y", 2259).attr("text-anchor", "middle").attr("dominant-baseline", "central")
  .attr("font-size", 22).attr("fill", "#222").text("TR allele size");
</script>
</body>
</html>
